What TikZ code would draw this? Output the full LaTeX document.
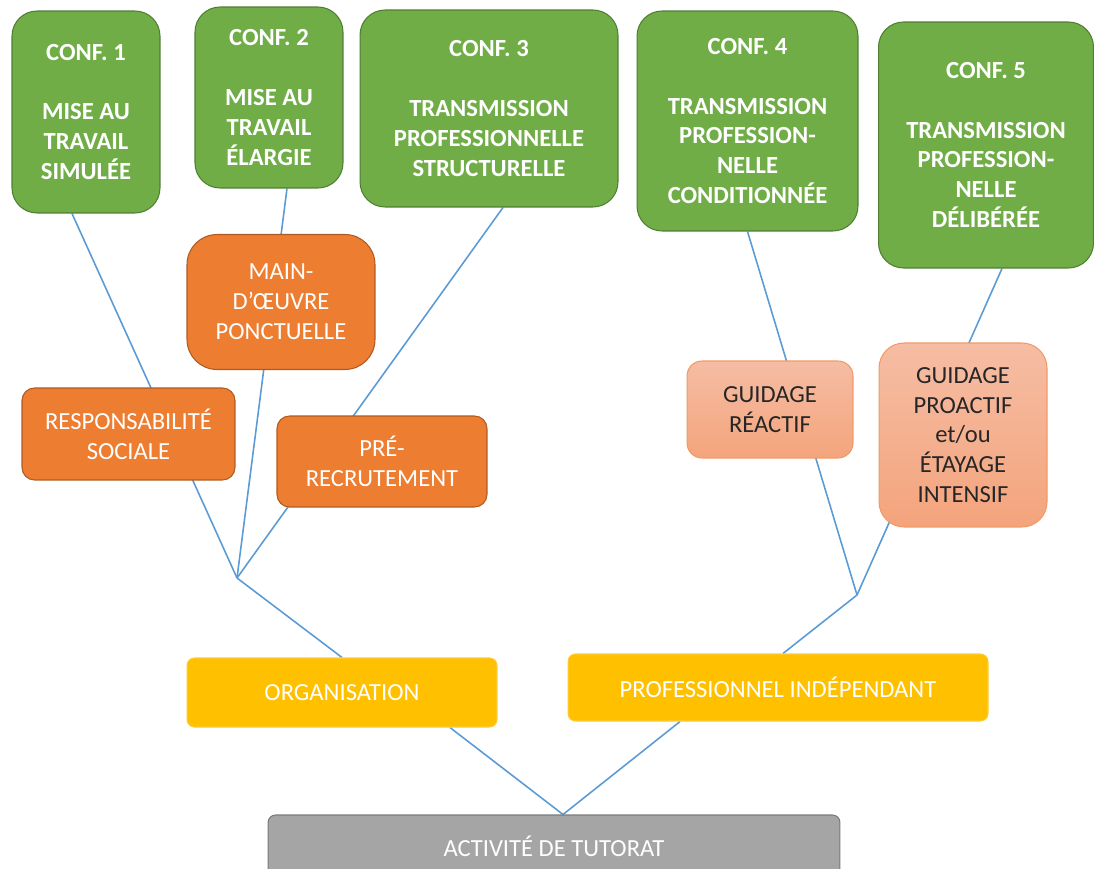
\documentclass[tikz,border=0pt]{standalone}
\usepackage{fontspec}
\setmainfont{Carlito}
\usetikzlibrary{backgrounds}
\definecolor{confgreen}{HTML}{70AD47}
\definecolor{confgreenline}{HTML}{507E32}
\definecolor{roleorange}{HTML}{ED7D31}
\definecolor{roleorangeline}{HTML}{AE5A21}
\definecolor{guidetop}{HTML}{F5BDA4}
\definecolor{guidebottom}{HTML}{F4A47C}
\definecolor{guideline}{HTML}{F29A66}
\definecolor{actoryellow}{HTML}{FFC000}
\definecolor{actorline}{HTML}{FFCB33}
\definecolor{basegray}{HTML}{A5A5A5}
\definecolor{basegrayline}{HTML}{7B7B7B}
\definecolor{branchblue}{HTML}{5B9BD5}
\begin{document}
\begin{tikzpicture}[x=0.02cm,y=-0.02cm,
box/.style={align=center,inner sep=0pt,line width=.6pt,font=\fontsize{14}{17}\selectfont},
conf/.style={box,fill=confgreen,draw=confgreenline,text=white,font=\fontsize{14}{17}\selectfont\bfseries,rounded corners=.5cm},
role/.style={box,fill=roleorange,draw=roleorangeline,text=white},
guide/.style={box,top color=guidetop,bottom color=guidebottom,draw=guideline,text=black!85},
actor/.style={box,fill=actoryellow,draw=actorline,text=white,rounded corners=.15cm},
branch/.style={branchblue,line width=.9pt}]
\useasboundingbox (0,0) rectangle (1094,868);
\node[conf,minimum width=2.96cm,minimum height=4.04cm] (conf1) at (86,112)
{CONF. 1\\[17pt]MISE AU\\TRAVAIL\\SIMULÉE};
\node[conf,minimum width=2.96cm,minimum height=3.62cm] (conf2) at (269,97.5)
{CONF. 2\\[17pt]MISE AU\\TRAVAIL\\ÉLARGIE};
\node[conf,minimum width=5.16cm,minimum height=3.94cm] (conf3) at (489,108.5)
{CONF. 3\\[17pt]TRANSMISSION\\PROFESSIONNELLE\\STRUCTURELLE};
\node[conf,minimum width=4.42cm,minimum height=4.40cm] (conf4) at (747.5,121)
{CONF. 4\\[17pt]TRANSMISSION\\PROFESSION-\\NELLE\\CONDITIONNÉE};
\node[conf,minimum width=4.30cm,minimum height=4.92cm] (conf5) at (986,145)
{CONF. 5\\[17pt]TRANSMISSION\\PROFESSION-\\NELLE\\DÉLIBÉRÉE};
\node[role,rounded corners=.6cm,minimum width=3.76cm,minimum height=2.70cm] (main) at (281,302)
{MAIN-\\D’ŒUVRE\\PONCTUELLE};
\node[role,rounded corners=.25cm,minimum width=4.26cm,minimum height=1.84cm] (resp) at (128.5,434)
{RESPONSABILITÉ\\SOCIALE};
\node[role,rounded corners=.25cm,minimum width=4.20cm,minimum height=1.82cm] (prerec) at (382,461.5)
{PRÉ-\\RECRUTEMENT};
\node[guide,rounded corners=.3cm,minimum width=3.32cm,minimum height=1.94cm] (reactif) at (770,409.5)
{GUIDAGE\\RÉACTIF};
\node[guide,rounded corners=.5cm,minimum width=3.36cm,minimum height=3.68cm] (proactif) at (963,435)
{GUIDAGE\\PROACTIF\\et/ou\\ÉTAYAGE\\INTENSIF};
\node[actor,minimum width=6.20cm,minimum height=1.38cm] (orga) at (342,692.5) {ORGANISATION};
\node[actor,minimum width=8.40cm,minimum height=1.34cm] (prof) at (778,687.5) {PROFESSIONNEL INDÉPENDANT};
\node[box,fill=basegray,draw=basegrayline,text=white,rounded corners=.15cm,
minimum width=11.44cm,minimum height=1.24cm] (tutorat) at (554,846) {ACTIVITÉ DE TUTORAT};
\coordinate (J1) at (237,578);
\coordinate (J2) at (857,595);
\begin{scope}[on background layer]
\draw[branch] ([xshift=-.28cm]conf1.south) -- (J1);
\draw[branch] ([xshift=.36cm]conf2.south) -- (J1);
\draw[branch] ([xshift=.28cm]conf3.south) -- (J1);
\draw[branch] (J1) -- (orga.north);
\draw[branch] (conf4.south) -- (J2);
\draw[branch] ([xshift=.32cm]conf5.south) -- (J2);
\draw[branch] (J2) -- ([xshift=.1cm]prof.north);
\draw[branch] ([xshift=2.16cm]orga.south) -- ([xshift=.18cm]tutorat.north);
\draw[branch] ([xshift=-1.96cm]prof.south) -- ([xshift=.18cm]tutorat.north);
\end{scope}
\end{tikzpicture}
\end{document}
